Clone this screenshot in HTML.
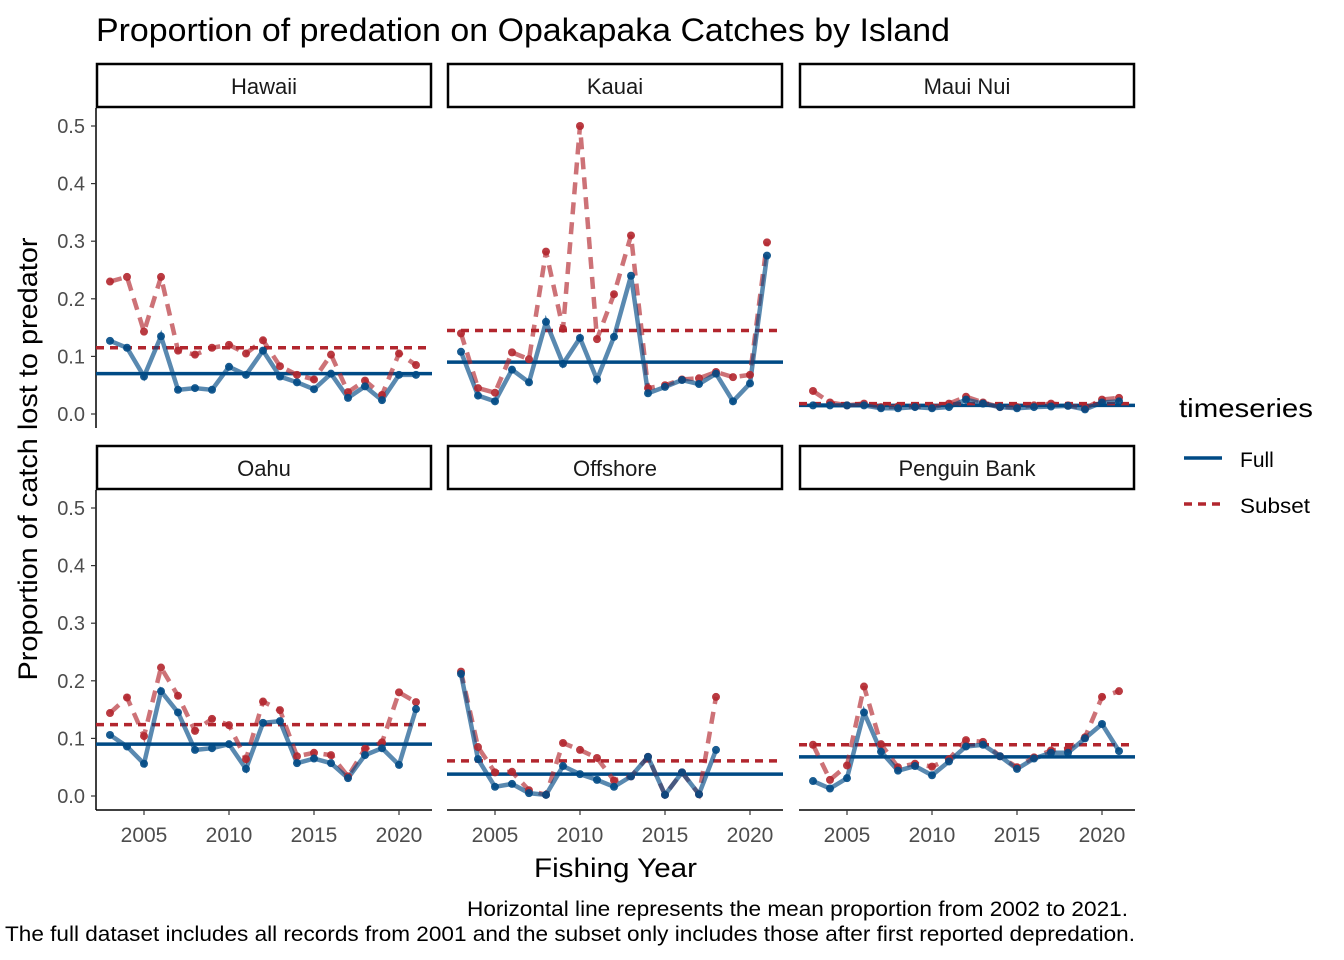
<!DOCTYPE html>
<html><head><meta charset="utf-8"><style>body{margin:0;background:#fff}svg{display:block}text{font-family:"Liberation Sans",Arial,sans-serif}</style></head>
<body>
<svg id="c" width="1344" height="960" xmlns="http://www.w3.org/2000/svg">
<text x="96" y="41" font-size="32" textLength="854" lengthAdjust="spacingAndGlyphs" fill="#000">Proportion of predation on Opakapaka Catches by Island</text>
<text transform="translate(37,459) rotate(-90)" text-anchor="middle" font-size="27" textLength="443" lengthAdjust="spacingAndGlyphs" fill="#000">Proportion of catch lost to predator</text>
<text x="534" y="877" font-size="27" textLength="163" lengthAdjust="spacingAndGlyphs" fill="#000">Fishing Year</text>
<text x="467" y="916" font-size="21" textLength="661" lengthAdjust="spacingAndGlyphs" fill="#000">Horizontal line represents the mean proportion from 2002 to 2021.</text>
<text x="5" y="941" font-size="21" textLength="1130" lengthAdjust="spacingAndGlyphs" fill="#000">The full dataset includes all records from 2001 and the subset only includes those after first reported depredation.</text>
<g>
<text x="1179" y="417" font-size="26" textLength="134" lengthAdjust="spacingAndGlyphs">timeseries</text>
<line x1="1184" x2="1222" y1="458" y2="458" stroke="#004a85" stroke-width="3.5"/>
<text x="1240" y="467" font-size="21">Full</text>
<line x1="1184" x2="1222" y1="504" y2="504" stroke="#b2262e" stroke-width="3.5" stroke-dasharray="8,6"/>
<text x="1240" y="513" font-size="21" textLength="70" lengthAdjust="spacingAndGlyphs">Subset</text>
</g>
</svg>
<script>
const panels = ["Hawaii","Kauai","Maui Nui","Oahu","Offshore","Penguin Bank"];
const yearsAll = [2003,2004,2005,2006,2007,2008,2009,2010,2011,2012,2013,2014,2015,2016,2017,2018,2019,2020,2021];
const yearsOffshore = [2003,2004,2005,2006,2007,2008,2009,2010,2011,2012,2013,2014,2015,2016,2017,2018];
const fullHawaii = [0.127,0.115,0.065,0.135,0.042,0.045,0.042,0.082,0.068,0.11,0.065,0.055,0.043,0.07,0.028,0.048,0.024,0.068,0.068];
const subHawaii = [0.23,0.238,0.143,0.238,0.11,0.103,0.115,0.12,0.105,0.128,0.083,0.068,0.06,0.103,0.038,0.058,0.033,0.105,0.085];
const fullKauai = [0.108,0.032,0.022,0.077,0.055,0.16,0.087,0.132,0.06,0.134,0.24,0.036,0.047,0.059,0.052,0.07,0.022,0.053,0.275];
const subKauai = [0.14,0.045,0.037,0.107,0.095,0.282,0.148,0.5,0.13,0.208,0.31,0.045,0.05,0.06,0.062,0.073,0.064,0.068,0.298];
const fullMaui = [0.015,0.015,0.015,0.015,0.01,0.01,0.012,0.01,0.012,0.025,0.018,0.012,0.01,0.012,0.013,0.014,0.008,0.02,0.022];
const subMaui = [0.04,0.02,0.015,0.018,0.012,0.013,0.013,0.012,0.018,0.03,0.02,0.012,0.012,0.015,0.018,0.015,0.01,0.025,0.028];
const fullOahu = [0.106,0.086,0.056,0.182,0.145,0.08,0.083,0.09,0.047,0.127,0.13,0.057,0.065,0.057,0.031,0.071,0.083,0.054,0.151];
const subOahu = [0.144,0.171,0.104,0.223,0.174,0.113,0.134,0.123,0.064,0.164,0.149,0.069,0.075,0.071,0.034,0.082,0.093,0.18,0.163];
const fullOffshore = [0.212,0.064,0.016,0.021,0.005,0.002,0.052,0.038,0.028,0.016,0.034,0.068,0.002,0.041,0.003,0.08];
const subOffshore = [0.216,0.085,0.041,0.042,0.01,0.002,0.092,0.08,0.066,0.027,0.034,0.068,0.002,0.041,0.003,0.172];
const fullPenguin = [0.026,0.013,0.031,0.145,0.077,0.044,0.052,0.036,0.06,0.086,0.089,0.069,0.047,0.065,0.075,0.075,0.1,0.125,0.078];
const subPenguin = [0.089,0.028,0.053,0.19,0.09,0.05,0.056,0.051,0.064,0.097,0.094,0.069,0.05,0.067,0.079,0.082,0.102,0.172,0.182];
const meanFull = [0.07,0.09,0.015,0.09,0.038,0.068];
const meanSub = [0.115,0.145,0.018,0.124,0.061,0.089];
const yTicks = [0,0.1,0.2,0.3,0.4,0.5];
const yTickLabels = ["0.0","0.1","0.2","0.3","0.4","0.5"];
const xTicks = [2005,2010,2015,2020];

const years = [yearsAll,yearsAll,yearsAll,yearsAll,yearsOffshore,yearsAll];
const fulls = [fullHawaii,fullKauai,fullMaui,fullOahu,fullOffshore,fullPenguin];
const subs = [subHawaii,subKauai,subMaui,subOahu,subOffshore,subPenguin];

const svg = document.getElementById('c');
const NS = 'http://www.w3.org/2000/svg';
function mk(tag, attrs, parent){const e=document.createElementNS(NS,tag);for(const k in attrs)e.setAttribute(k,attrs[k]);(parent||svg).appendChild(e);return e;}
const colX=[96,447,799], PW=336;
const rowTop=[108,490], PH=320;
const BLUE='#004a85', RED='#b2262e';
panels.forEach((name,i)=>{
  const c=i%3, r=Math.floor(i/3);
  const x0=colX[c], y0=rowTop[r];
  const xs = yr => x0 + 14 + (yr-2003)*17;
  const ys = v => y0 + 306 - v*576;
  const g = mk('g',{});
  
  
  const strip = mk('rect',{x:x0+1,y:y0-44,width:PW-2,height:43,fill:'#fff',stroke:'#000','stroke-width':2.5},g);
  
  
  const st = mk('text',{x:x0+PW/2,y:y0-14,'text-anchor':'middle','font-size':22,fill:'#1a1a1a'},g);
  st.textContent=name;
  
  
  if(c===0){
    const ax=mk('line',{x1:x0,x2:x0,y1:y0,y2:y0+PH,stroke:'#000','stroke-width':1.5},g);
    
    
    yTicks.forEach((t,k)=>{
      mk('line',{x1:x0-5,x2:x0,y1:ys(t),y2:ys(t),stroke:'#333','stroke-width':1.2},g);
      const tl=mk('text',{x:x0-11,y:ys(t)+7,'text-anchor':'end','font-size':20,fill:'#4d4d4d'},g);
      tl.textContent=yTickLabels[k];
      
      
    });
  }
  if(r===1){
    const ax=mk('line',{x1:x0,x2:x0+PW,y1:y0+PH,y2:y0+PH,stroke:'#000','stroke-width':1.5},g);
    
    
    xTicks.forEach(t=>{
      mk('line',{x1:xs(t),x2:xs(t),y1:y0+PH,y2:y0+PH+5,stroke:'#333','stroke-width':1.2},g);
      const tl=mk('text',{x:xs(t),y:y0+PH+32,'text-anchor':'middle','font-size':21,fill:'#4d4d4d'},g);
      tl.textContent=t;
      
      
    });
  }
  const yr=years[i];
  const mf=mk('line',{x1:x0,x2:x0+PW,y1:ys(meanFull[i]),y2:ys(meanFull[i]),stroke:BLUE,'stroke-width':3.5},g);
  
  
  const ms=mk('line',{x1:x0,x2:x0+PW,y1:ys(meanSub[i]),y2:ys(meanSub[i]),stroke:RED,'stroke-width':3.5,'stroke-dasharray':'8,6'},g);
  
  
  const sp=mk('polyline',{points:subs[i].map((v,k)=>xs(yr[k])+','+ys(v)).join(' '),fill:'none',stroke:RED,'stroke-opacity':0.65,'stroke-width':4.5,'stroke-dasharray':'12,8'},g);
  
  
  const fp=mk('polyline',{points:fulls[i].map((v,k)=>xs(yr[k])+','+ys(v)).join(' '),fill:'none',stroke:BLUE,'stroke-opacity':0.65,'stroke-width':4.5},g);
  
  
  subs[i].forEach((v,k)=>{
    const p=mk('circle',{cx:xs(yr[k]),cy:ys(v),r:4,fill:RED,'fill-opacity':0.9},g);
    
    
  });
  fulls[i].forEach((v,k)=>{
    const p=mk('circle',{cx:xs(yr[k]),cy:ys(v),r:4,fill:BLUE,'fill-opacity':0.9},g);
    
    
  });
});
</script>
</body></html>
